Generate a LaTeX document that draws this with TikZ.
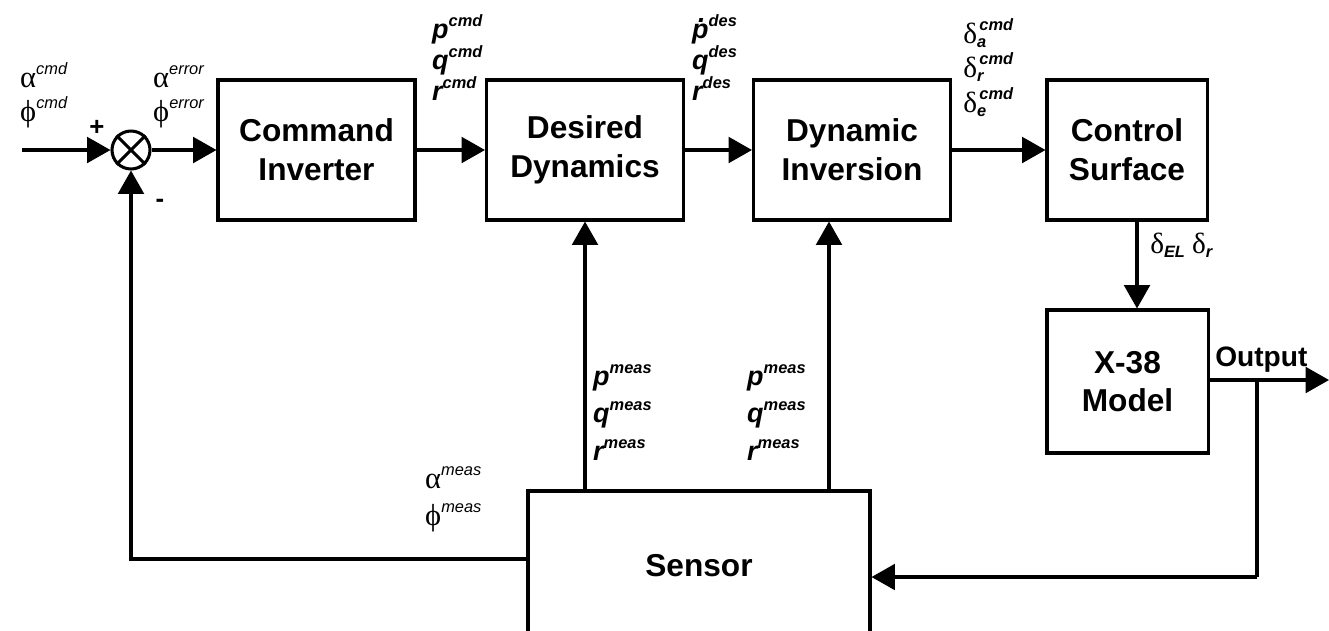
\documentclass[tikz,border=0pt]{standalone}
\usepackage{fontspec}
\setmainfont{Liberation Sans}
\newfontfamily\gk{Liberation Serif}
\usetikzlibrary{arrows.meta}
\newcommand\supf{\fontsize{14}{14}\selectfont\itshape}
\newcommand\Lp[2]{{\bfseries\itshape #1}\raisebox{10pt}{\supf\bfseries #2}}
\newcommand\Lg[2]{{\gk\fontsize{26}{26}\selectfont #1}\raisebox{11pt}{\supf #2}}
\newcommand\Ld[2]{{\gk\fontsize{25}{25}\selectfont δ}\rlap{\raisebox{-4pt}{\supf\bfseries #1}}\hspace{2pt}\raisebox{11pt}{\supf\bfseries #2}}
\newcommand\pdot{\rlap{\hspace{5pt}\raisebox{13pt}{\bfseries .}}p}
\begin{document}
\begin{tikzpicture}[x=0.03cm,y=-0.03cm,
  box/.style={draw, line width=2.6pt, align=center, inner sep=0pt,
    font=\bfseries\fontsize{27}{33}\selectfont},
  ln/.style={line width=2.6pt},
  arr/.style={line width=2.6pt, -{Triangle[length=20pt,width=22pt]}},
  lbl/.style={anchor=base west, inner sep=0pt, font=\fontsize{23}{23}\selectfont},
  sgn/.style={inner sep=0pt, font=\bfseries\fontsize{22}{22}\selectfont}]
\useasboundingbox (0,0) rectangle (1329,630);
\clip (0,0) rectangle (1329,630);
% blocks
\node[box, minimum width=5.91cm, minimum height=4.2cm] (CI) at (316.5,150) {Command\\Inverter};
\node[box, minimum width=5.91cm, minimum height=4.2cm] (DD) at (585,150) {Desired\\Dynamics};
\node[box, minimum width=5.91cm, minimum height=4.2cm] (DI) at (852,150) {Dynamic\\Inversion};
\node[box, minimum width=4.8cm, minimum height=4.2cm] (CS) at (1127,150) {Control\\Surface};
\node[box, minimum width=4.83cm, minimum height=4.29cm] (X38) at (1127.5,381.5) {X-38\\Model};
\node[box, minimum width=10.26cm, minimum height=4.5cm] (Sensor) at (699,566) {Sensor};
% summing junction
\node[draw, circle, line width=2.6pt, minimum size=1.14cm, inner sep=0pt] (sum) at (131,150) {};
\draw[ln] (sum.north west) -- (sum.south east);
\draw[ln] (sum.north east) -- (sum.south west);
% coordinates
\coordinate (in) at (22,150);
\coordinate (csx) at (1137,0);
\coordinate (outend) at (1329,380);
\coordinate (br) at (1257,380);
\coordinate (brd) at (1257,577);
\coordinate (dix) at (829,0);
\coordinate (fb) at (131,559);
% connectors
\draw[arr] (in) -- (sum);
\draw[arr] (sum) -- (CI);
\draw[arr] (CI) -- (DD);
\draw[arr] (DD) -- (DI);
\draw[arr] (DI) -- (CS);
\draw[arr] (CS.south -| csx) -- (X38.north -| csx);
\draw[arr] (X38.east |- outend) -- (outend);
\draw[ln] (br) -- (brd);
\draw[arr] (brd) -- (Sensor.east |- brd);
\draw[arr] (Sensor.north -| DD.south) -- (DD.south);
\draw[arr] (Sensor.north -| dix) -- (DI.south -| dix);
\draw[arr] (Sensor.west |- fb) -- (fb) -- (sum.south);
% signs
\node[sgn] (plus) at (97,128) {+};
\node[sgn] (minus) at (160,203) {-};
% labels
\node[lbl] (acmd) at (20,87) {\Lg{α}{cmd}};
\node[lbl] (fcmd) at (20,121) {\Lg{ϕ}{cmd}};
\node[lbl] (aerr) at (153,87) {\Lg{α}{error}};
\node[lbl] (ferr) at (153,121) {\Lg{ϕ}{error}};
\node[lbl] (pc) at (432,38) {\Lp{p}{cmd}};
\node[lbl] (qc) at (432,69) {\Lp{q}{cmd}};
\node[lbl] (rc) at (432,100) {\Lp{r}{cmd}};
\node[lbl] (pd) at (692,38) {\Lp{\pdot}{des}};
\node[lbl] (qd) at (692,69) {\Lp{q}{des}};
\node[lbl] (rd) at (692,100) {\Lp{r}{des}};
\node[lbl] (da) at (963,43) {\Ld{a}{cmd}};
\node[lbl] (dr) at (963,77) {\Ld{r}{cmd}};
\node[lbl] (de) at (963,112) {\Ld{e}{cmd}};
\node[lbl] (del) at (1150,253) {{\gk\fontsize{25}{25}\selectfont δ}\raisebox{-4pt}{\supf\bfseries EL}\hspace{6pt}{\gk\fontsize{25}{25}\selectfont δ}\raisebox{-4pt}{\supf\bfseries r}};
\node[lbl, font=\bfseries\fontsize{24}{24}\selectfont] (out) at (1215,366) {Output};
\node[lbl] (pm1) at (593,385) {\Lp{p}{meas}};
\node[lbl] (qm1) at (593,422) {\Lp{q}{meas}};
\node[lbl] (rm1) at (593,460) {\Lp{r}{meas}};
\node[lbl] (pm2) at (747,385) {\Lp{p}{meas}};
\node[lbl] (qm2) at (747,422) {\Lp{q}{meas}};
\node[lbl] (rm2) at (747,460) {\Lp{r}{meas}};
\node[lbl] (am) at (425,488) {\Lg{α}{meas}};
\node[lbl] (fm) at (425,525) {\Lg{ϕ}{meas}};
\end{tikzpicture}
\end{document}
